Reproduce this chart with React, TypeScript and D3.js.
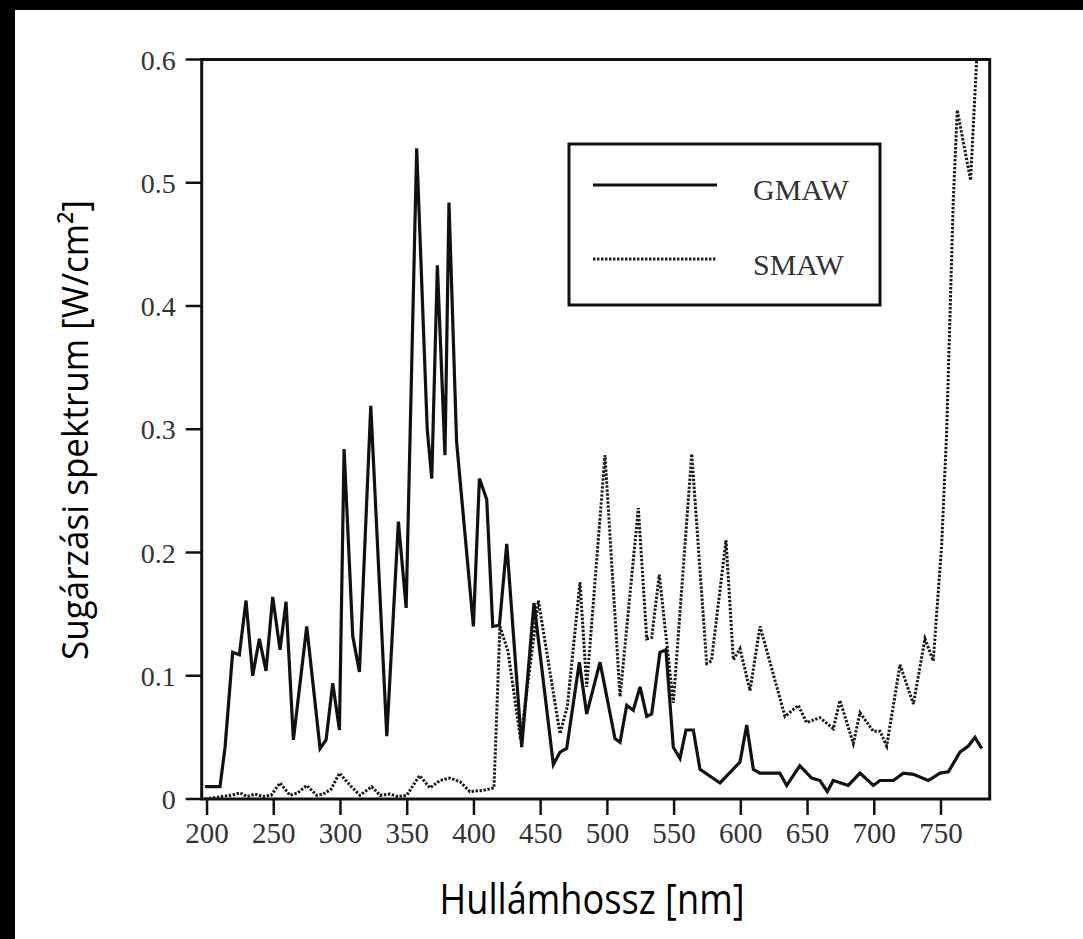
import React from "react";
import * as d3 from "d3";

// ---- data ----
const GMAW_NM = [198.5, 209.7, 213.5, 219.2, 224.2, 229.2, 234.2, 239.2, 244.2, 249.2, 254.7, 259.2, 264.7, 274.7, 284.7, 289.2, 294.2, 299.2, 302.7, 309.2, 314.2, 322.7, 334.7, 343.4, 349.2, 357.1, 365, 368.4, 372.6, 378.3, 381.3, 387, 399.6, 404.1, 409.6, 414.1, 419.1, 424.6, 435.8, 445.0, 459.5, 464.5, 469.5, 479.0, 484.5, 494.5, 505.7, 509.5, 514.5, 519.4, 524.5, 529.5, 533.2, 539.4, 543.9, 549.4, 554.4, 558.9, 564.4, 569.4, 584.4, 599.4, 604.4, 609.4, 614.4, 629.2, 634.4, 644.2, 653.1, 659.3, 664.8, 669.3, 680.5, 689.3, 699.3, 704.3, 714.3, 721.8, 729.3, 740.5, 749.3, 755.5, 764.2, 770.5, 775.5, 780.5];
const GMAW_VAL = [0.010, 0.010, 0.042, 0.119, 0.117, 0.161, 0.100, 0.130, 0.104, 0.164, 0.121, 0.160, 0.048, 0.140, 0.041, 0.048, 0.094, 0.056, 0.284, 0.132, 0.103, 0.319, 0.051, 0.225, 0.155, 0.528, 0.300, 0.260, 0.433, 0.279, 0.484, 0.290, 0.140, 0.260, 0.243, 0.140, 0.141, 0.207, 0.042, 0.159, 0.028, 0.038, 0.041, 0.111, 0.069, 0.111, 0.049, 0.046, 0.076, 0.072, 0.091, 0.067, 0.069, 0.119, 0.121, 0.042, 0.033, 0.056, 0.056, 0.024, 0.013, 0.030, 0.060, 0.024, 0.021, 0.021, 0.011, 0.027, 0.017, 0.015, 0.006, 0.015, 0.011, 0.021, 0.011, 0.015, 0.015, 0.021, 0.020, 0.015, 0.021, 0.022, 0.038, 0.043, 0.050, 0.041];

const SMAW_NM = [198.5, 205, 211, 218, 224.7, 230, 236, 242, 248, 254.7, 262.2, 268, 274.7, 282.2, 287, 293, 299.2, 307.2, 314.6, 323.4, 329.6, 337, 343, 349.6, 359.3, 367.1, 374.6, 382, 389.6, 397, 407, 415, 419.5, 425.5, 435, 448.3, 464.5, 470, 479.5, 484.5, 498.2, 509.5, 523.2, 529.5, 533.2, 538.9, 549.4, 563.2, 574.4, 578, 588.9, 594.4, 599.4, 606.9, 614.4, 633.1, 643.1, 649.3, 659.3, 669.3, 674.3, 684.3, 689.3, 699.3, 704.3, 709.3, 719.3, 729.3, 738, 744.2, 750.5, 754.2, 759.2, 762.2, 772.2, 776.7];
const SMAW_VAL = [0.000, 0.001, 0.002, 0.003, 0.005, 0.002, 0.004, 0.002, 0.003, 0.013, 0.003, 0.005, 0.011, 0.003, 0.004, 0.008, 0.021, 0.011, 0.003, 0.010, 0.003, 0.004, 0.002, 0.003, 0.019, 0.009, 0.015, 0.017, 0.014, 0.006, 0.007, 0.009, 0.140, 0.120, 0.048, 0.161, 0.053, 0.075, 0.176, 0.091, 0.279, 0.083, 0.236, 0.130, 0.131, 0.182, 0.078, 0.280, 0.110, 0.112, 0.210, 0.113, 0.122, 0.088, 0.140, 0.067, 0.076, 0.062, 0.066, 0.057, 0.080, 0.045, 0.070, 0.055, 0.055, 0.043, 0.109, 0.077, 0.130, 0.112, 0.206, 0.296, 0.486, 0.559, 0.502, 0.600];

const X_TICKS = [200, 250, 300, 350, 400, 450, 500, 550, 600, 650, 700, 750];
const Y_TICKS = [0, 0.1, 0.2, 0.3, 0.4, 0.5, 0.6];
const Y_TICK_LABELS = ["0", "0.1", "0.2", "0.3", "0.4", "0.5", "0.6"];
const SERIES_NAMES = ["GMAW", "SMAW"];
const X_TITLE = "Hullámhossz [nm]";
const Y_TITLE = "Sugárzási spektrum [W/cm²]";

export default function App() {
  const W = 1083, H = 939;
  const x = d3.scaleLinear().domain([196, 786.5]).range([201.7, 989.7]);
  const y = d3.scaleLinear().domain([0, 0.6]).range([799, 59.5]);

  const gm = GMAW_NM.map((n, i) => [n, GMAW_VAL[i]] as [number, number]);
  const sm = SMAW_NM.map((n, i) => [n, SMAW_VAL[i]] as [number, number]);
  const line = d3.line<[number, number]>().x(d => x(d[0])).y(d => y(d[1]));

  const x0 = x.range()[0], x1 = x.range()[1];
  const y0 = y.range()[0], y1 = y.range()[1];
  const serif = "'Liberation Serif', 'Times New Roman', serif";
  const sans = "'Open Sans', 'Noto Sans', sans-serif";
  const lblColor = "#333";

  return (
    <svg width={W} height={H} style={{ position: "absolute", left: 0, top: 0 }}>
      <rect x={0} y={0} width={W} height={H} fill="#000" />
      <rect x={15} y={10} width={W - 15} height={H - 10} fill="#fff" />
      <defs>
        <clipPath id="plot">
          <rect x={x0} y={y1 - 2} width={x1 - x0} height={y0 - y1 + 2} />
        </clipPath>
      </defs>

      {/* series */}
      <g clipPath="url(#plot)">
        <path d={line(sm) || ""} fill="none" stroke="#1a1a1a" strokeWidth={3} strokeDasharray="2.4 1.6" />
        <path d={line(gm) || ""} fill="none" stroke="#111" strokeWidth={3.2} strokeLinejoin="miter" strokeMiterlimit={4} />
      </g>

      {/* frame */}
      <rect x={x0} y={y1} width={x1 - x0} height={y0 - y1} fill="none" stroke="#111" strokeWidth={3} />

      {/* y ticks */}
      {Y_TICKS.map((t, i) => (
        <g key={"y" + i}>
          <line x1={x0 - 16} x2={x0} y1={y(t)} y2={y(t)} stroke="#111" strokeWidth={2.5} />
          <text x={x0 - 26} y={y(t) + 10} textAnchor="end" fontFamily={serif} fontSize={28} fill={lblColor}>
            {Y_TICK_LABELS[i]}
          </text>
        </g>
      ))}

      {/* x ticks */}
      {X_TICKS.map((t, i) => (
        <g key={"x" + i}>
          <line x1={x(t)} x2={x(t)} y1={y0} y2={y0 + 16} stroke="#111" strokeWidth={2.5} />
          <text x={x(t)} y={y0 + 44} textAnchor="middle" fontFamily={serif} fontSize={29} fill={lblColor}>
            {t}
          </text>
        </g>
      ))}

      {/* legend */}
      <rect x={569} y={144} width={311} height={161} fill="#fff" stroke="#111" strokeWidth={3} />
      <line x1={593} x2={717} y1={185} y2={185} stroke="#111" strokeWidth={3.2} />
      <line x1={593} x2={717} y1={259} y2={259} stroke="#1a1a1a" strokeWidth={3} strokeDasharray="2.4 1.6" />
      <text x={753} y={200} fontFamily={serif} fontSize={30} fill={lblColor}>{SERIES_NAMES[0]}</text>
      <text x={753} y={275} fontFamily={serif} fontSize={30} fill={lblColor}>{SERIES_NAMES[1]}</text>

      {/* axis titles */}
      <text x={592} y={914} textAnchor="middle" fontFamily={sans} fontSize={42} fill="#000"
        textLength={305} lengthAdjust="spacingAndGlyphs">{X_TITLE}</text>
      <text transform={`translate(88,430) rotate(-90)`} textAnchor="middle" fontFamily={sans} fontSize={37} fill="#000"
        textLength={460} lengthAdjust="spacingAndGlyphs">{Y_TITLE}</text>
    </svg>
  );
}
